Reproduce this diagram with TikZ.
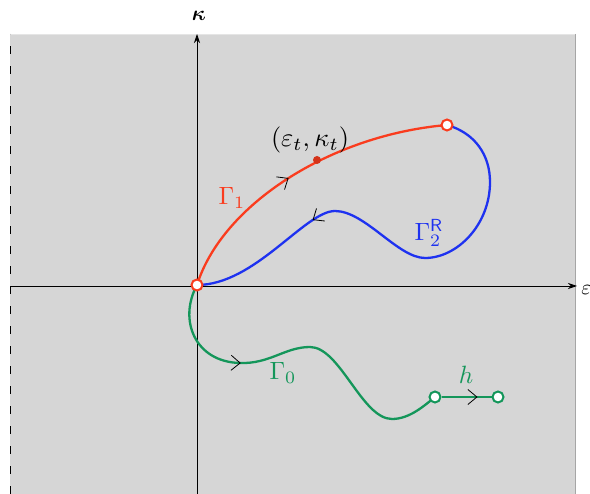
\documentclass[tikz,border=0pt]{standalone}
\usepackage{amsmath}
\usetikzlibrary{arrows.meta,decorations.markings}
\definecolor{cred}{RGB}{250,60,30}
\definecolor{cblue}{RGB}{30,50,240}
\definecolor{cgreen}{RGB}{20,150,90}
\definecolor{bggray}{RGB}{214,214,214}
\tikzset{
  curve/.style={line width=2.3pt},
  midarrow/.style={postaction={decorate},decoration={markings,
     mark=at position #1 with {\arrow[black,line width=0.8pt]{Straight Barb[length=9pt,width=15pt]}}}},
  opencirc/.style={circle,minimum size=11pt,inner sep=0pt,line width=2pt,fill=white},
  axis/.style={line width=0.8pt,-{Stealth[length=9pt,width=6pt]}},
  lab/.style={inner sep=0pt,scale=2.5}
}
\begin{document}
\begin{tikzpicture}[x=1pt,y=-1pt]
\useasboundingbox (0,0) rectangle (590,494);
% background
\fill[bggray] (10,34) rectangle (576,494);
\draw[gray!20,line width=1pt] (10,34.5) -- (576,34.5);
\draw[gray!70,line width=1.2pt] (575.5,34) -- (575.5,494);
\draw[black,line width=1.3pt,dash pattern=on 8pt off 12pt] (10.5,494) -- (10.5,34);
% axes
\coordinate (xl) at (10,286);
\coordinate (xr) at (577,286);
\coordinate (yb) at (197,494);
\coordinate (yt) at (197,34);
\draw[axis] (xl) -- (xr);
\draw[axis] (yb) -- (yt);
\node[inner sep=0pt,scale=2.1,anchor=west] (eps) at (581,290) {$\varepsilon$};
\node[inner sep=0pt,scale=2.1] (kap) at (199,16) {$\boldsymbol{\kappa}$};
% curves
\coordinate (O) at (197,285);
\coordinate (A) at (447,125);
\coordinate (B) at (435,397);
\draw[cblue,curve,midarrow=0.7] (A)
  .. controls (475,133) and (490,155) .. (490,182)
  .. controls (490,225) and (457,258) .. (425,258)
  .. controls (398,258) and (365,211) .. (335,211)
  .. controls (305,211) and (255,285) .. (O);
\draw[cgreen,curve,midarrow=0.32] (O)
  .. controls (178,320) and (195,362) .. (240,363)
  .. controls (270,364) and (285,347) .. (310,347)
  .. controls (340,347) and (362,419) .. (392,419)
  .. controls (410,419) and (425,405) .. (B);
\draw[cred,curve,midarrow=0.46] (O)
  .. controls (222,205) and (330,135) .. (A);
% end points
\node[opencirc,draw=cred] (Oc) at (O) {};
\node[opencirc,draw=cred] (Ac) at (A) {};
\node[opencirc,draw=cgreen] (Bc) at (B) {};
\node[opencirc,draw=cgreen] (Cc) at (498,397) {};
\draw[cgreen,curve,midarrow=0.72] (Bc) -- (Cc);
\node[circle,fill=cred!85!black,minimum size=8pt,inner sep=0pt] (P) at (317,160) {};
% labels
\node[lab,scale=1.05] (pl) at (310,140) {$(\varepsilon_t,\kappa_t)$};
\node[lab,text=cred] (g1) at (232,198) {$\Gamma_1$};
\node[lab,text=cblue] (g2) at (429,233) {$\Gamma_2^{\mathsf{R}}$};
\node[lab,text=cgreen] (g0) at (283,373) {$\Gamma_0$};
\node[lab,text=cgreen] (hl) at (466,375) {$h$};
\end{tikzpicture}
\end{document}
